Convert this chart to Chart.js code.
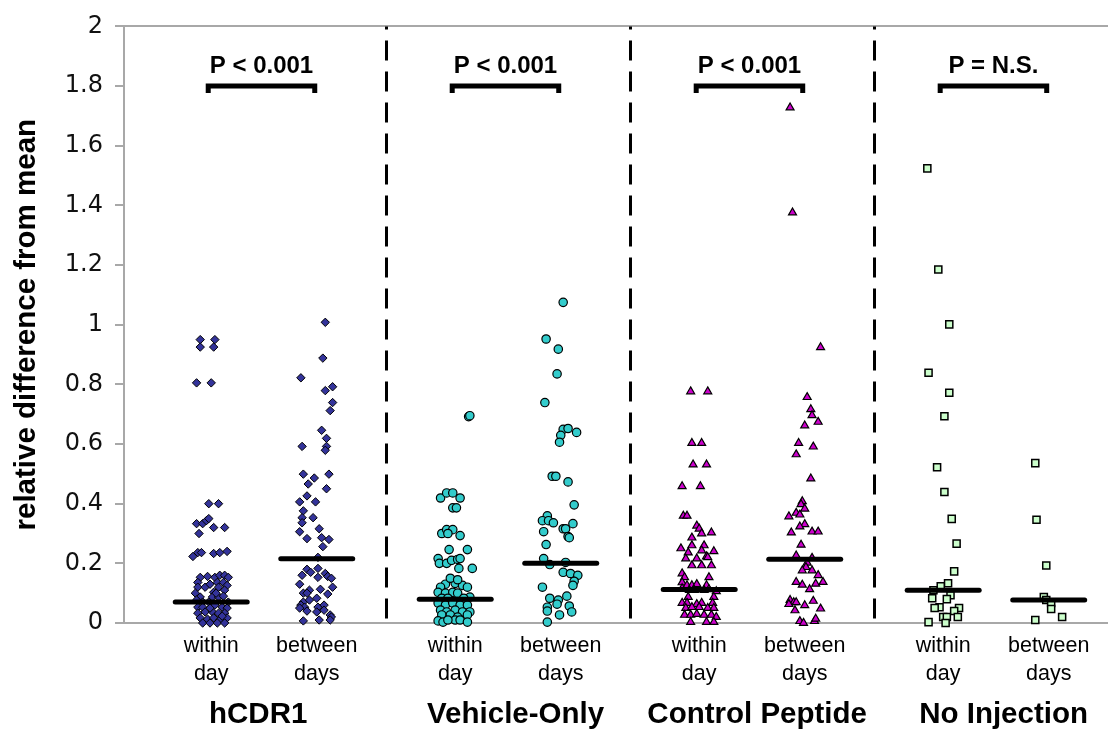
<!DOCTYPE html>
<html><head><meta charset="utf-8">
<script src="https://cdn.jsdelivr.net/npm/chart.js@4/dist/chart.umd.min.js"></script>
<style>html,body{margin:0;padding:0;background:#fff;overflow:hidden;}#wrap{width:1108px;height:729px;position:relative;}canvas{display:block;}</style>
</head><body><div id="wrap"><canvas id="c"></canvas></div>
<script>
// ---------------- DATA ----------------
const groups = ["hCDR1", "Vehicle-Only", "Control Peptide", "No Injection"];
const subCategories = [["within", "day"], ["between", "days"]];
const yTickValues = [0, 0.2, 0.4, 0.6, 0.8, 1, 1.2, 1.4, 1.6, 1.8, 2];
const pLabels = ["P < 0.001", "P < 0.001", "P < 0.001", "P = N.S."];
const yTitle = "relative difference from mean";

// means (horizontal bars): [within day, between days] per group
const meanHCDR1 = [0.07, 0.215];
const meanVehicle = [0.08, 0.20];
const meanControl = [0.112, 0.214];
const meanNoInj = [0.11, 0.077];

// individual values and horizontal jitter (in category units)
const hcdr1WithinY = [0.95,0.95,0.925,0.925,0.805,0.805,0.40,0.40,0.333,0.333,0.343,0.35,0.32,0.32,0.30,0.223,0.236,0.236,0.233,0.236,0.24,0.156,0.153,0.136,0.12,0.153,0.16,0.16,0.153,0.136,0.136,0.126,0.12,0.103,0.11,0.10,0.087,0.087,0.087,0.09,0.07,0.07,0.07,0.053,0.053,0.06,0.053,0.05,0.037,0.037,0.033,0.033,0.033,0.017,0.013,0.017,0.01,0.017,0.0,0.0,0.0,0.0,0.12,0.13,0.077,0.023,0.05,0.10];
const hcdr1WithinJ = [-0.09,0.03,-0.09,0.02,-0.12,0,-0.02,0.06,-0.12,-0.07,-0.04,-0.02,0.02,0.11,-0.10,-0.15,-0.11,-0.08,0.02,0.07,0.13,-0.03,-0.09,-0.11,-0.11,0.03,0.07,0.11,0.14,0.05,0.10,0.13,0.06,0.02,0.11,-0.13,-0.09,0.01,0.06,0.10,-0.07,-0.02,0.14,-0.11,-0.07,0.03,0.09,0.13,-0.05,0.01,-0.11,0.06,0.11,-0.09,-0.03,0.02,0.07,0.13,-0.07,-0.01,0.05,0.11,-0.05,-0.01,-0.12,0.09,-0.01,0.04];
const hcdr1BetweenY = [1.008,0.888,0.822,0.779,0.792,0.739,0.712,0.646,0.619,0.592,0.592,0.579,0.499,0.499,0.486,0.466,0.45,0.426,0.406,0.406,0.376,0.353,0.353,0.336,0.306,0.316,0.283,0.286,0.28,0.256,0.22,0.18,0.183,0.17,0.16,0.166,0.156,0.15,0.153,0.13,0.11,0.113,0.12,0.10,0.10,0.097,0.083,0.07,0.077,0.06,0.053,0.053,0.06,0.05,0.04,0.037,0.043,0.027,0.02,0.007,0.01,0.01];
const hcdr1BetweenJ = [0.07,0.05,-0.13,0.07,0.13,0.13,0.11,0.04,0.08,-0.12,0.08,0.07,-0.11,0.10,-0.02,-0.07,0.08,-0.08,-0.14,-0.01,-0.11,-0.12,-0.03,-0.12,-0.14,0.02,-0.08,0.04,0.10,0.05,0.01,-0.08,0.01,-0.05,-0.12,0.07,0.09,0.12,0.01,-0.14,-0.06,0.03,0.13,-0.11,-0.08,0.09,0,-0.11,-0.06,-0.13,-0.10,0.01,0.06,-0.14,-0.08,0,0.06,0.11,0.12,-0.11,0.02,0.11];

const vehicleWithinY = [0.692,0.695,0.419,0.436,0.436,0.419,0.386,0.386,0.30,0.313,0.313,0.30,0.293,0.246,0.246,0.216,0.20,0.20,0.21,0.213,0.216,0.183,0.183,0.13,0.12,0.133,0.126,0.12,0.103,0.10,0.103,0.10,0.087,0.083,0.083,0.083,0.067,0.06,0.067,0.06,0.06,0.043,0.037,0.043,0.037,0.037,0.027,0.027,0.02,0.027,0.007,0.003,0.01,0.01,0.003,0.01,0.15,0.145];
const vehicleWithinJ = [0.11,0.12,-0.12,-0.07,-0.02,0.04,-0.02,0.01,-0.11,-0.07,-0.02,-0.06,0.04,-0.05,0.10,-0.14,-0.13,-0.07,-0.03,0.02,0.04,0.03,0.14,-0.08,-0.12,0,0.06,0.10,-0.14,-0.08,-0.02,0.02,0.12,-0.11,-0.06,0.07,-0.14,-0.08,-0.02,0.04,0.10,-0.12,-0.07,0,0.06,0.12,-0.11,-0.04,0.02,0.10,-0.14,-0.10,0,0.04,0.10,-0.06,-0.04,0.02];
const vehicleBetweenY = [1.075,0.952,0.918,0.835,0.739,0.649,0.652,0.629,0.639,0.606,0.492,0.492,0.473,0.396,0.359,0.343,0.343,0.336,0.333,0.316,0.316,0.29,0.286,0.306,0.263,0.216,0.196,0.203,0.17,0.166,0.16,0.14,0.126,0.12,0.083,0.077,0.09,0.053,0.063,0.057,0.04,0.027,0.037,0.003];
const vehicleBetweenJ = [0.02,-0.12,-0.02,-0.03,-0.13,0.02,0.06,0,0.13,-0.01,-0.07,-0.04,0.06,0.11,-0.11,-0.15,-0.10,-0.06,0.10,0.02,0.04,0.06,0.07,-0.14,-0.12,-0.14,-0.09,0.04,0.02,0.08,0.14,0.11,0.10,-0.15,-0.09,-0.02,0.05,-0.11,-0.03,0.07,-0.11,-0.01,0.09,-0.11];

const controlWithinY = [0.776,0.776,0.603,0.603,0.531,0.531,0.458,0.458,0.359,0.359,0.326,0.316,0.286,0.30,0.303,0.25,0.26,0.26,0.24,0.236,0.243,0.216,0.216,0.223,0.22,0.193,0.193,0.193,0.166,0.153,0.153,0.136,0.126,0.126,0.13,0.126,0.116,0.11,0.11,0.11,0.113,0.106,0.087,0.087,0.067,0.067,0.063,0.067,0.067,0.05,0.053,0.053,0.05,0.05,0.027,0.027,0.03,0.027,0.027,0.02,0.003,0.003,0.003];
const controlWithinJ = [-0.07,0.07,-0.06,0.02,-0.05,0.06,-0.14,0.01,-0.13,-0.10,-0.02,0,-0.06,0.02,0.10,-0.15,-0.06,0.04,0.12,-0.09,0.02,-0.11,-0.02,0.06,0.07,-0.06,0.02,0.10,-0.14,-0.12,0.08,-0.14,-0.10,-0.06,-0.02,0.06,-0.14,-0.08,-0.04,0.04,0.08,0.14,-0.09,0.12,-0.14,-0.10,-0.02,0.02,0.11,-0.11,-0.06,0,0.07,0.12,-0.12,-0.07,-0.02,0.04,0.10,0.14,-0.07,0.06,0.12];
const controlBetweenY = [1.728,1.376,0.924,0.757,0.716,0.696,0.674,0.662,0.603,0.591,0.565,0.484,0.408,0.398,0.383,0.369,0.357,0.363,0.331,0.323,0.303,0.306,0.306,0.262,0.226,0.218,0.202,0.187,0.176,0.176,0.16,0.137,0.128,0.131,0.137,0.113,0.077,0.069,0.069,0.063,0.059,0.074,0.048,0.042,0.006,0.0,0.006,0.014];
const controlBetweenJ = [-0.12,-0.10,0.13,0.02,0.05,0.06,0.11,0,-0.05,0.07,-0.07,0.05,-0.02,-0.03,0,-0.07,-0.13,-0.04,0,-0.04,-0.11,0.06,0.11,-0.03,-0.07,0.06,0.02,0.01,0.06,-0.02,0.11,-0.07,-0.02,0.09,0.15,0.04,-0.12,-0.09,-0.07,-0.13,0,0.07,0.13,-0.08,-0.04,-0.01,0.08,0.09];

const noInjWithinY = [1.524,1.185,1.001,0.839,0.772,0.693,0.522,0.439,0.349,0.266,0.173,0.133,0.123,0.11,0.093,0.08,0.083,0.053,0.05,0.05,0.04,0.02,0.02,0.02,0.003,0.0];
const noInjWithinJ = [-0.13,-0.04,0.05,-0.12,0.05,0.01,-0.05,0.01,0.07,0.11,0.09,0.04,-0.02,-0.08,0.06,0.03,-0.09,-0.03,-0.07,0.13,0.09,0,0.03,0.12,-0.12,0.02];
const noInjBetweenY = [0.536,0.346,0.193,0.087,0.077,0.067,0.047,0.01,0.02];
const noInjBetweenJ = [-0.11,-0.10,-0.02,-0.04,-0.02,0.02,0.02,-0.11,0.11];

// ---------------- LAYOUT / STYLE ----------------
const X_MAX = 8.066;                 // x axis extent in category units
const SUB_OFFSET = [0.715, 1.58];     // within / between position inside a group (group pitch = 2)
const GROUP_LABEL_OFFSET = [1.10, 3.21, 5.19, 7.21];
const SEP_OFFSET = 0.148;
const MEAN_HALF = 0.295;
const BRACKET_Y = 1.80;
const FONT = "'Liberation Sans', Arial, Helvetica, sans-serif";

const pos = (g, k) => 2 * g + SUB_OFFSET[k];
const toPts = (g, k, ys, js) => ys.map((y, i) => ({ x: pos(g, k) + (js[i] || 0), y }));

const series = [
  { label: groups[0], within: [hcdr1WithinY, hcdr1WithinJ], between: [hcdr1BetweenY, hcdr1BetweenJ], mean: meanHCDR1,
    style: 'rectRot', r: 4.2, fill: '#33339a', bw: 1 },
  { label: groups[1], within: [vehicleWithinY, vehicleWithinJ], between: [vehicleBetweenY, vehicleBetweenJ], mean: meanVehicle,
    style: 'circle', r: 4.2, fill: '#33cccc', bw: 1.2 },
  { label: groups[2], within: [controlWithinY, controlWithinJ], between: [controlBetweenY, controlBetweenJ], mean: meanControl,
    style: 'triangle', r: 4.6, fill: '#cc00cc', bw: 1.2 },
  { label: groups[3], within: [noInjWithinY, noInjWithinJ], between: [noInjBetweenY, noInjBetweenJ], mean: meanNoInj,
    style: 'rect', r: 5, fill: '#ccffcc', bw: 1.5 }
];

const datasets = [];
series.forEach((s, g) => {
  datasets.push({
    type: 'scatter', label: s.label,
    data: toPts(g, 0, s.within[0], s.within[1]).concat(toPts(g, 1, s.between[0], s.between[1])),
    pointStyle: s.style, pointRadius: s.r, pointHoverRadius: s.r,
    backgroundColor: s.fill, borderColor: '#000', pointBorderWidth: s.bw, borderWidth: s.bw,
    clip: false, order: 2
  });
  [0, 1].forEach(k => {
    datasets.push({
      type: 'line', label: s.label + ' mean ' + k,
      data: [{ x: pos(g, k) - MEAN_HALF, y: s.mean[k] }, { x: pos(g, k) + MEAN_HALF, y: s.mean[k] }],
      borderColor: '#000', borderWidth: 5, borderCapStyle: 'round', pointRadius: 0, showLine: true,
      fill: false, clip: false, order: 0
    });
  });
});

const catTicks = [];
for (let g = 0; g < groups.length; g++) for (let k = 0; k < 2; k++) catTicks.push(pos(g, k));

const noPad = s => { s.paddingLeft = 0; s.paddingRight = 0; };

const overlay = {
  id: 'overlay',
  beforeDatasetsDraw(chart) {
    const { ctx, chartArea: a, scales: { x } } = chart;
    ctx.save();
    ctx.strokeStyle = '#000'; ctx.lineWidth = 3;
    ctx.setLineDash([20, 11]); ctx.lineDashOffset = 17;
    for (let g = 1; g < groups.length; g++) {
      const px = Math.round(x.getPixelForValue(2 * g + SEP_OFFSET)) + 0.5;
      ctx.beginPath(); ctx.moveTo(px, a.top); ctx.lineTo(px, a.bottom); ctx.stroke();
    }
    ctx.restore();
  },
  afterDatasetsDraw(chart) {
    const { ctx, scales: { x, y } } = chart;
    ctx.save();
    const yb = y.getPixelForValue(BRACKET_Y);
    groups.forEach((gname, g) => {
      const x1 = x.getPixelForValue(pos(g, 0)) - 3, x2 = x.getPixelForValue(pos(g, 1)) - 2;
      ctx.strokeStyle = '#000'; ctx.lineWidth = 5; ctx.lineJoin = 'miter'; ctx.lineCap = 'butt';
      ctx.beginPath(); ctx.moveTo(x1, yb + 7); ctx.lineTo(x1, yb); ctx.lineTo(x2, yb); ctx.lineTo(x2, yb + 7); ctx.stroke();
      ctx.fillStyle = '#000'; ctx.font = 'bold 24px ' + FONT; ctx.textAlign = 'center'; ctx.textBaseline = 'alphabetic';
      ctx.fillText(pLabels[g], (x1 + x2) / 2, yb - 13);
    });
    ctx.restore();
  }
};

new Chart(document.getElementById('c'), {
  type: 'scatter',
  data: { datasets },
  plugins: [overlay],
  options: {
    responsive: true, maintainAspectRatio: false, animation: false,
    layout: { padding: 0, autoPadding: false },
    plugins: { legend: { display: false }, tooltip: { enabled: false } },
    scales: {
      x: {
        type: 'linear', position: 'bottom', min: 0, max: X_MAX,
        grid: { display: false, drawTicks: false },
        border: { display: true, color: '#a8a8a8', width: 2 },
        afterBuildTicks: s => { s.ticks = catTicks.map(v => ({ value: v })); },
        ticks: { autoSkip: false, maxRotation: 0, padding: 9, color: '#000',
          font: { family: FONT, size: 21.5, lineHeight: 1.3 },
          callback: (v, i) => subCategories[i % 2] },
        afterFit: s => { s.height = 70; noPad(s); }
      },
      xg: {
        type: 'linear', position: 'bottom', min: 0, max: X_MAX,
        grid: { display: false, drawTicks: false }, border: { display: false },
        afterBuildTicks: s => { s.ticks = GROUP_LABEL_OFFSET.map(v => ({ value: v })); },
        ticks: { autoSkip: false, maxRotation: 0, padding: 4, color: '#000',
          font: { family: FONT, size: 29.5, weight: 'bold' },
          callback: (v, i) => groups[i] },
        afterFit: s => { s.height = 36; noPad(s); }
      },
      xt: {
        type: 'linear', position: 'top', min: 0, max: X_MAX,
        grid: { display: false, drawTicks: false }, ticks: { display: false },
        border: { display: true, color: '#a8a8a8', width: 2 },
        afterFit: s => { s.height = 22; noPad(s); }
      },
      y: {
        type: 'linear', min: 0, max: 2,
        afterBuildTicks: s => { s.ticks = yTickValues.map(v => ({ value: v })); },
        grid: { drawOnChartArea: false, drawTicks: true, tickLength: 9, color: '#a8a8a8', lineWidth: 2 },
        border: { display: true, color: '#a8a8a8', width: 2 },
        ticks: { padding: 12, color: '#111', font: { family: "'DejaVu Sans', sans-serif", size: 24 },
          callback: v => String(v) },
        title: { display: true, text: yTitle, color: '#000', padding: { top: 9, bottom: 0 },
          font: { family: FONT, size: 29.5, weight: 'bold' } },
        afterFit: s => { s.width = 124; }
      }
    }
  }
});
</script>
</body></html>
